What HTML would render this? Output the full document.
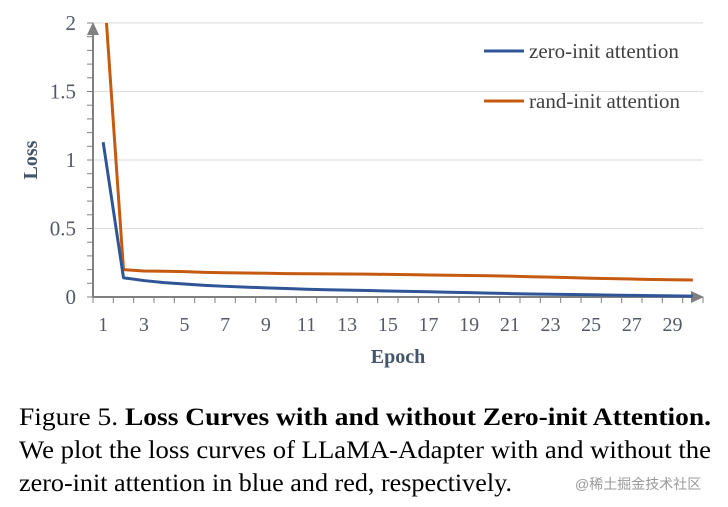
<!DOCTYPE html>
<html><head><meta charset="utf-8"><style>
html,body{margin:0;padding:0;background:#fff;}
svg{display:block;}
</style></head><body>
<svg id="chart" width="728" height="507" viewBox="0 0 728 507" xmlns="http://www.w3.org/2000/svg" font-family="Liberation Serif, serif">
<g id="grid"></g>
<g id="axes"></g>
<g id="series"></g>
<g>
  <line x1="484" y1="51" x2="524" y2="51" stroke="#2f5597" stroke-width="3"/>
  <text x="529" y="58" font-size="21" fill="#404040">zero-init attention</text>
  <line x1="484" y1="101" x2="524" y2="101" stroke="#c55a11" stroke-width="3"/>
  <text x="529" y="108" font-size="21" fill="#404040">rand-init attention</text>
</g>
<text transform="translate(37,160) rotate(-90)" text-anchor="middle" font-size="20" font-weight="bold" fill="#44546a">Loss</text>
<text x="398" y="363" text-anchor="middle" font-size="20" font-weight="bold" fill="#44546a">Epoch</text>
<g font-size="25" fill="#000">
  <text x="19" y="425" textLength="692" lengthAdjust="spacingAndGlyphs">Figure 5.  <tspan font-weight="bold">Loss Curves with and without Zero-init Attention.</tspan></text>
  <text x="19" y="458" textLength="692" lengthAdjust="spacingAndGlyphs">We plot the loss curves of LLaMA-Adapter with and without the</text>
  <text x="19" y="491" textLength="493" lengthAdjust="spacingAndGlyphs">zero-init attention in blue and red, respectively.</text>
</g>
<text x="575" y="489" font-size="14" fill="#9a9a9a" font-family="Liberation Sans, Noto Sans CJK SC, sans-serif">@稀土掘金技术社区</text>
</svg>
<script>
const epochs = [1,2,3,4,5,6,7,8,9,10,11,12,13,14,15,16,17,18,19,20,21,22,23,24,25,26,27,28,29,30];
const zeroInit = [1.13,0.14,0.12,0.105,0.095,0.085,0.078,0.072,0.067,0.062,0.057,0.053,0.05,0.047,0.044,0.041,0.038,0.035,0.032,0.028,0.025,0.022,0.02,0.018,0.016,0.014,0.012,0.01,0.008,0.006];
const randInit = [2.35,0.2,0.19,0.188,0.185,0.18,0.177,0.175,0.173,0.171,0.17,0.169,0.168,0.167,0.165,0.163,0.161,0.159,0.157,0.155,0.152,0.148,0.145,0.141,0.137,0.134,0.131,0.128,0.126,0.124];
const yTicks = [0,0.5,1,1.5,2];
const yTickLabels = ["0","0.5","1","1.5","2"];
const xTickLabels = ["1","3","5","7","9","11","13","15","17","19","21","23","25","27","29"];

const NS='http://www.w3.org/2000/svg';
const X0=93, X1=703, Y0=297, Y1=23, YMAX=2;
const bw=(X1-X0)/epochs.length;
const xs=i=>X0+bw*(i+0.5);
const ys=v=>Y0-(v/YMAX)*(Y0-Y1);
function mk(tag,attrs,parent){const e=document.createElementNS(NS,tag);for(const k in attrs)e.setAttribute(k,attrs[k]);parent.appendChild(e);return e;}
const grid=document.getElementById('grid'),axes=document.getElementById('axes'),series=document.getElementById('series');

yTicks.forEach((t,i)=>{
  if(t>0){const g=mk('line',{x1:X0,x2:X1,y1:ys(t),y2:ys(t),stroke:'#e0e0e0','stroke-width':1.2},grid);
  
  }
  const l=mk('text',{x:76,y:ys(t)+7,'text-anchor':'end','font-size':21,fill:'#555a66'},axes);
  l.textContent=yTickLabels[i];
  
  
});
for(let v=0;v<=YMAX+1e-9;v+=0.1){
  const m=mk('line',{x1:X0-6,x2:X0,y1:ys(v),y2:ys(v),stroke:'#808080','stroke-width':1},axes);
  
  
}
for(let i=0;i<=epochs.length;i++){
  const x=X0+bw*i;
  const m=mk('line',{x1:x,x2:x,y1:Y0,y2:Y0+6,stroke:'#808080','stroke-width':1},axes);
  
  
}
xTickLabels.forEach(lab=>{
  const idx=epochs.indexOf(+lab);
  const t=mk('text',{x:xs(idx),y:331,'text-anchor':'middle','font-size':20,fill:'#555a66'},axes);
  t.textContent=lab;
  
  
});
const ya=mk('line',{x1:X0,x2:X0,y1:Y0,y2:Y1+8,stroke:'#808080','stroke-width':2},axes);


const yar=mk('polygon',{points:`${X0-6},${Y1+12} ${X0+6},${Y1+12} ${X0},${Y1-1}`,fill:'#808080'},axes);


const xa=mk('line',{x1:X0,x2:X1-8,y1:Y0,y2:Y0,stroke:'#808080','stroke-width':2},axes);


const xar=mk('polygon',{points:`${X1-12},${Y0-6} ${X1-12},${Y0+6} ${X1+1},${Y0}`,fill:'#808080'},axes);



const cp=mk('clipPath',{id:'clip'},series);
mk('rect',{x:X0,y:Y1,width:X1-X0,height:Y0-Y1+5},cp);
function line(data,color,name){
  const p=mk('polyline',{points:data.map((v,i)=>xs(i)+','+ys(v)).join(' '),fill:'none',stroke:color,'stroke-width':3,'stroke-linejoin':'round','clip-path':'url(#clip)'},series);
  
  
}
line(randInit,'#c55a11','rand-init-line');
line(zeroInit,'#2f5597','zero-init-line');
</script>
</body></html>
